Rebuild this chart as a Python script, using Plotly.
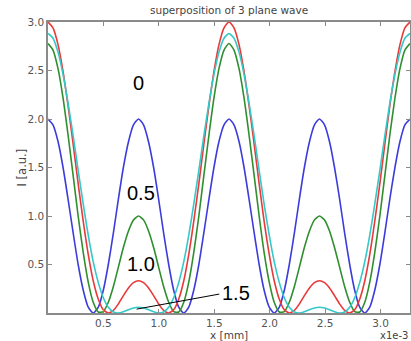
import plotly.graph_objects as go

# x positions [mm, x1e-3]
x_vals = [0.000, 0.045, 0.091, 0.136, 0.181, 0.227, 0.272, 0.318, 0.363, 0.408,
          0.454, 0.499, 0.544, 0.590, 0.635, 0.680, 0.726, 0.771, 0.817, 0.862,
          0.907, 0.953, 0.998, 1.043, 1.089, 1.134, 1.179, 1.225, 1.270, 1.315,
          1.361, 1.406, 1.452, 1.497, 1.542, 1.588, 1.633, 1.678, 1.724, 1.769,
          1.814, 1.860, 1.905, 1.950, 1.996, 2.041, 2.087, 2.132, 2.177, 2.223,
          2.268, 2.313, 2.359, 2.404, 2.449, 2.495, 2.540, 2.585, 2.631, 2.676,
          2.722, 2.767, 2.812, 2.858, 2.903, 2.948, 2.994, 3.039, 3.084, 3.130,
          3.175, 3.220, 3.266]

# intensity, curve "0" (blue)
i_0 = [2.000, 1.940, 1.766, 1.500, 1.174, 0.826, 0.500, 0.234, 0.060, 0.000,
       0.060, 0.234, 0.500, 0.826, 1.174, 1.500, 1.766, 1.940, 2.000, 1.940,
       1.766, 1.500, 1.174, 0.826, 0.500, 0.234, 0.060, 0.000, 0.060, 0.234,
       0.500, 0.826, 1.174, 1.500, 1.766, 1.940, 2.000,
       1.940, 1.766, 1.500, 1.174, 0.826, 0.500, 0.234, 0.060, 0.000, 0.060,
       0.234, 0.500, 0.826, 1.174, 1.500, 1.766, 1.940, 2.000, 1.940, 1.766,
       1.500, 1.174, 0.826, 0.500, 0.234, 0.060, 0.000, 0.060, 0.234, 0.500,
       0.826, 1.174, 1.500, 1.766, 1.940, 2.000]

# curve "0.5" (green)
i_05 = [2.778, 2.711, 2.516, 2.214, 1.835, 1.417, 1.000, 0.623, 0.319, 0.111,
        0.010, 0.015, 0.111, 0.274, 0.473, 0.675, 0.846, 0.960, 1.000, 0.960,
        0.846, 0.675, 0.473, 0.274, 0.111, 0.015, 0.010, 0.111, 0.319, 0.623,
        1.000, 1.417, 1.835, 2.214, 2.516, 2.711, 2.778,
        2.711, 2.516, 2.214, 1.835, 1.417, 1.000, 0.623, 0.319, 0.111, 0.010,
        0.015, 0.111, 0.274, 0.473, 0.675, 0.846, 0.960, 1.000, 0.960, 0.846,
        0.675, 0.473, 0.274, 0.111, 0.015, 0.010, 0.111, 0.319, 0.623, 1.000,
        1.417, 1.835, 2.214, 2.516, 2.711, 2.778]

# curve "1.0" (red)
i_10 = [3.000, 2.940, 2.764, 2.488, 2.137, 1.741, 1.333, 0.945, 0.605, 0.333,
        0.142, 0.033, 0.000, 0.027, 0.094, 0.179, 0.258, 0.313, 0.333, 0.313,
        0.258, 0.179, 0.094, 0.027, 0.000, 0.033, 0.142, 0.333, 0.605, 0.945,
        1.333, 1.741, 2.137, 2.488, 2.764, 2.940, 3.000,
        2.940, 2.764, 2.488, 2.137, 1.741, 1.333, 0.945, 0.605, 0.333, 0.142,
        0.033, 0.000, 0.027, 0.094, 0.179, 0.258, 0.313, 0.333, 0.313, 0.258,
        0.179, 0.094, 0.027, 0.000, 0.033, 0.142, 0.333, 0.605, 0.945, 1.333,
        1.741, 2.137, 2.488, 2.764, 2.940, 3.000]

# curve "1.5" (cyan)
i_15 = [2.882, 2.833, 2.687, 2.458, 2.163, 1.826, 1.471, 1.122, 0.803, 0.529,
        0.313, 0.157, 0.059, 0.011, 0.000, 0.013, 0.034, 0.052, 0.059, 0.052,
        0.034, 0.013, 0.000, 0.011, 0.059, 0.157, 0.313, 0.529, 0.803, 1.122,
        1.471, 1.826, 2.163, 2.458, 2.687, 2.833, 2.882,
        2.833, 2.687, 2.458, 2.163, 1.826, 1.471, 1.122, 0.803, 0.529, 0.313,
        0.157, 0.059, 0.011, 0.000, 0.013, 0.034, 0.052, 0.059, 0.052, 0.034,
        0.013, 0.000, 0.011, 0.059, 0.157, 0.313, 0.529, 0.803, 1.122, 1.471,
        1.826, 2.163, 2.458, 2.687, 2.833, 2.882]

series_names = ["0", "0.5", "1.0", "1.5"]
series_vals = [i_0, i_05, i_10, i_15]
series_colors = ["#3c3cdc", "#2f8f2f", "#e83a3a", "#35c8c8"]

x_ticks = [0.5, 1.0, 1.5, 2.0, 2.5, 3.0]
x_ticktext = ["0.5", "1.0", "1.5", "2.0", "2.5", "3.0"]
y_ticks = [0.5, 1.0, 1.5, 2.0, 2.5, 3.0]
y_ticktext = ["0.5", "1.0", "1.5", "2.0", "2.5", "3.0"]

fig = go.Figure()
for name, vals, col in zip(series_names, series_vals, series_colors):
    fig.add_trace(go.Scatter(x=x_vals, y=vals, mode="lines", name=name,
                             line=dict(color=col, width=1.6, shape="spline", smoothing=0.6),
                             showlegend=False, hoverinfo="skip"))

axis_common = dict(showline=True, linecolor="#8a8a8a", linewidth=1.5, mirror="ticks",
                   ticks="inside", ticklen=4, tickwidth=1, tickcolor="#8a8a8a",
                   showgrid=False, zeroline=False, automargin=False,
                   tickfont=dict(family="DejaVu Sans", size=10.5, color="#555555"))

fig.update_xaxes(range=[0, 3.266], tickvals=x_ticks, ticktext=x_ticktext, **axis_common)
fig.update_yaxes(range=[0, 3.0], tickvals=y_ticks, ticktext=y_ticktext, **axis_common)

label_font = dict(family="Liberation Sans", size=20, color="black")
fig.add_annotation(x=0.817, y=2.37, text="0", showarrow=False, font=label_font)
fig.add_annotation(x=0.84, y=1.24, text="0.5", showarrow=False, font=label_font)
fig.add_annotation(x=0.84, y=0.505, text="1.0", showarrow=False, font=label_font)
fig.add_annotation(x=1.697, y=0.21, text="1.5", showarrow=False, font=label_font)
fig.add_shape(type="line", x0=0.80, y0=0.04, x1=1.545, y1=0.195,
              line=dict(color="black", width=1))

small = dict(family="DejaVu Sans", size=10.5, color="#444444")
fig.add_annotation(xref="paper", yref="paper", x=0.5, y=1.041, text="superposition of 3 plane wave",
                   showarrow=False, font=small, xanchor="center", yanchor="middle")
fig.add_annotation(xref="paper", yref="paper", x=0.5, y=-0.0756, text="x [mm]",
                   showarrow=False, font=small, xanchor="center", yanchor="middle")
fig.add_annotation(xref="paper", yref="paper", x=1.0, y=-0.0777, text="x1e-3",
                   showarrow=False, font=dict(family="DejaVu Sans", size=10, color="#444444"),
                   xanchor="right", yanchor="middle")
fig.add_annotation(xref="paper", yref="paper", x=-0.072, y=0.5, text="I [a.u.]", textangle=-90,
                   showarrow=False, font=dict(family="DejaVu Sans", size=11.5, color="#444444"),
                   xanchor="center", yanchor="middle")

fig.update_layout(width=411, height=341, margin=dict(l=48, r=1, t=22, b=28),
                  paper_bgcolor="white", plot_bgcolor="white")

fig.write_html("out.html", config={"displayModeBar": False},
               post_script="document.body.style.margin='0';document.body.style.padding='0';"
                           "document.body.style.overflow='hidden';")
